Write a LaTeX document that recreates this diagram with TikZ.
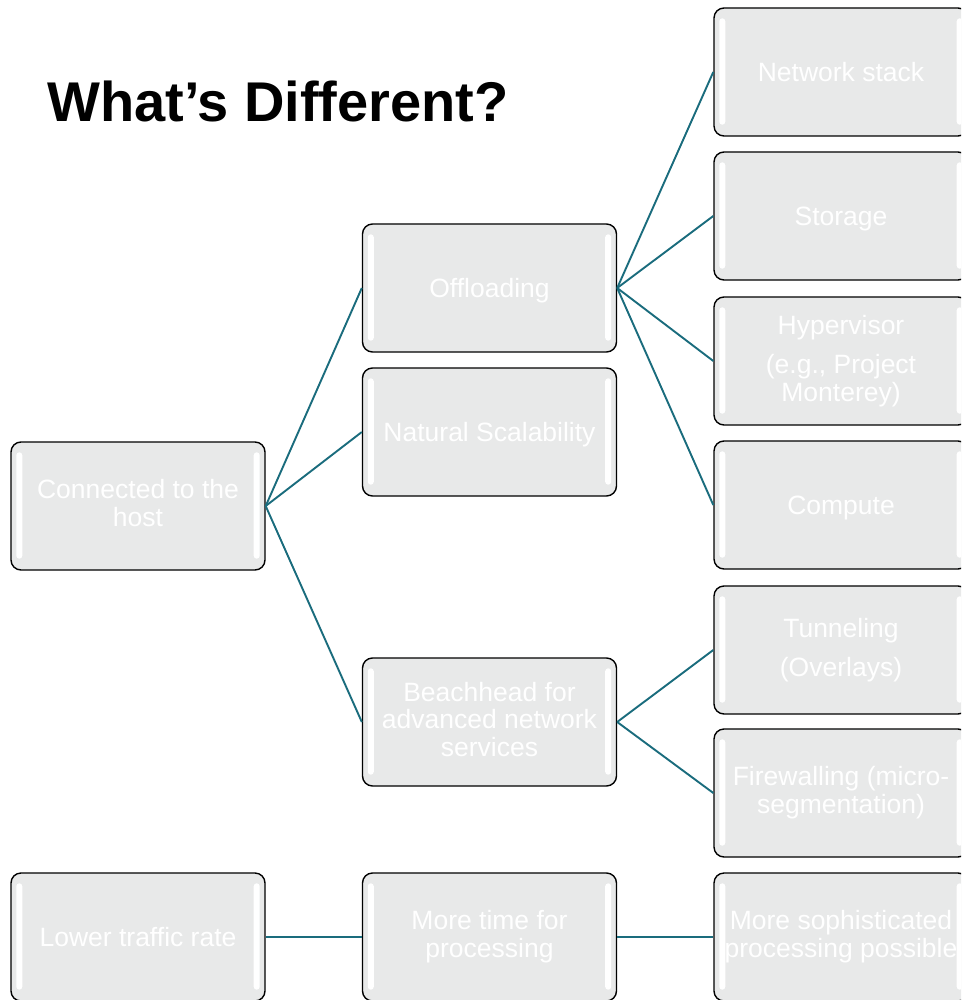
\documentclass[tikz,border=0pt]{standalone}
\usepackage{fontspec}
\setmainfont{Liberation Sans}
\usetikzlibrary{calc}
\definecolor{boxfill}{HTML}{E8E9E9}
\definecolor{linkteal}{HTML}{1A6C7D}
% line strut: full ascent and descent of the box font
\newcommand{\linestrut}{\rule[-5.6pt]{0pt}{29.6pt}}
\tikzset{
  item/.style={draw=black, line width=1.4pt, fill=boxfill, rounded corners=10pt,
    minimum width=254pt, minimum height=128pt, inner sep=0pt,
    text=white, align=center, font=\fontsize{26.5}{27.7}\selectfont,
    execute at begin node=\linestrut, execute at end node=\linestrut},
  link/.style={draw=linkteal, line width=1.9pt},
  shine/.style={fill=white, rounded corners=3pt}
}
\begin{document}
\begin{tikzpicture}[x=1pt, y=-1pt]
\clip (0,0) rectangle (961,1000);
\fill[white] (0,0) rectangle (961,1000);

% title
\node[anchor=base west, inner sep=0pt, font=\bfseries\fontsize{56}{60}\selectfont] (title) at (47,122) {What’s Different?};

% first column
\node[item] (host) at (138,506) {Connected to the\\host};
\node[item] (rate) at (138,937) {Lower traffic rate};

% second column
\node[item] (offload) at (489.5,288) {Offloading};
\node[item] (scale) at (489.5,432) {Natural Scalability};
\node[item] (beach) at (489.5,722) {Beachhead for\\advanced network\\services};
\node[item] (time) at (489.5,937) {More time for\\processing};

% third column
\node[item] (net) at (841,72) {Network stack};
\node[item] (store) at (841,216) {Storage};
\node[item] (hyper) at (841,361) {Hypervisor\\[12pt](e.g., Project\\Monterey)};
\node[item] (comp) at (841,505) {Compute};
\node[item] (tunnel) at (841,650) {Tunneling\\[11pt](Overlays)};
\node[item] (fire) at (841,793) {Firewalling (micro-\\segmentation)};
\node[item] (soph) at (841,937) {More sophisticated\\processing possible};

% glossy edge highlights
\foreach \n in {host,rate,offload,scale,beach,time,net,store,hyper,comp,tunnel,fire,soph}{
  \fill[shine] ($(\n.north west)+(6,11)$) rectangle ($(\n.south west)+(12,-12)$);
  \fill[shine] ($(\n.north east)+(-12,11)$) rectangle ($(\n.south east)+(-6,-12)$);
}

% connectors
\draw[link] (host.east) -- (offload.west);
\draw[link] (host.east) -- (scale.west);
\draw[link] (host.east) -- (beach.west);
\draw[link] (offload.east) -- (net.west);
\draw[link] (offload.east) -- (store.west);
\draw[link] (offload.east) -- (hyper.west);
\draw[link] (offload.east) -- (comp.west);
\draw[link] (beach.east) -- (tunnel.west);
\draw[link] (beach.east) -- (fire.west);
\draw[link] (rate.east) -- (time.west);
\draw[link] (time.east) -- (soph.west);
\end{tikzpicture}
\end{document}
